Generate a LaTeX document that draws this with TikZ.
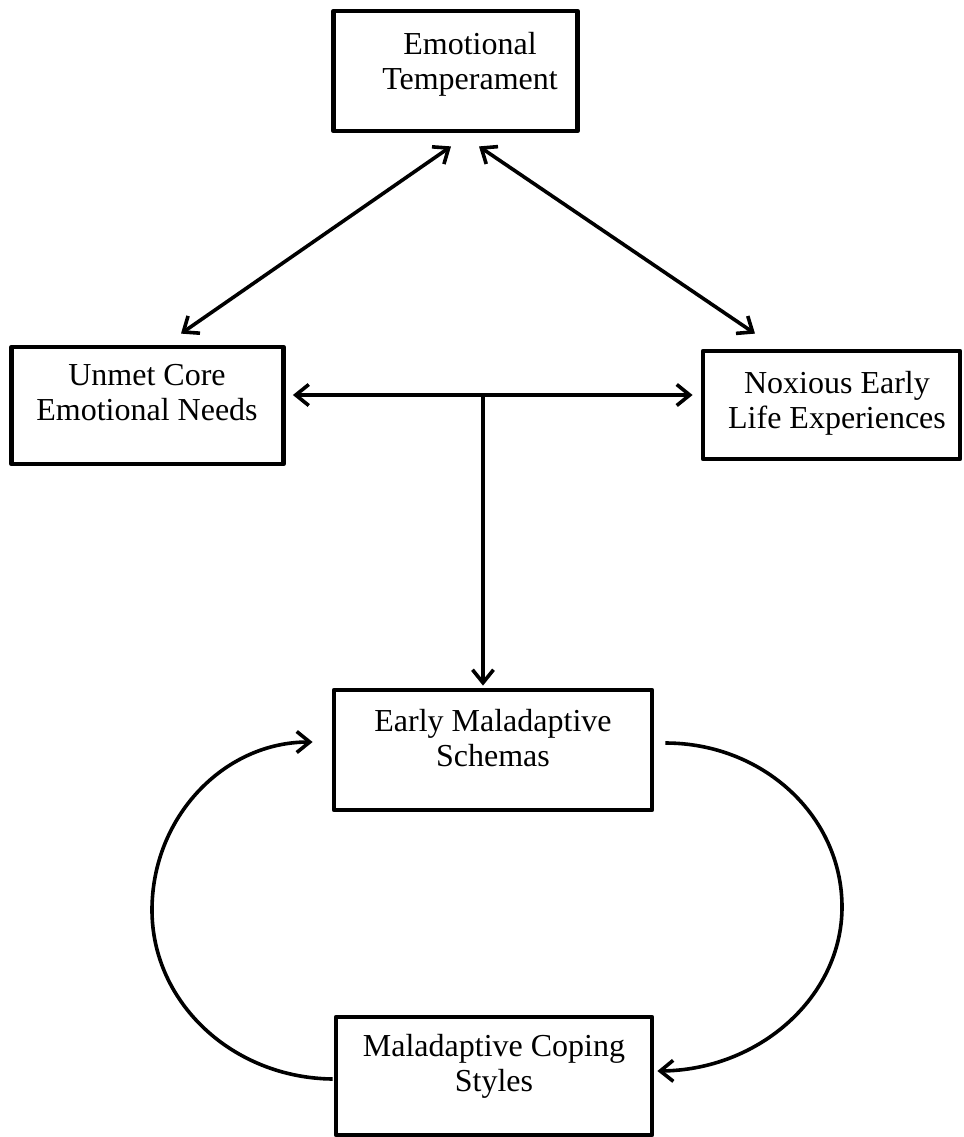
\documentclass[tikz,border=0pt]{standalone}
\usepackage{fontspec}
\setmainfont{Liberation Serif}
\usetikzlibrary{arrows.meta}
\tikzset{
  box/.style={draw,line width=2.4pt,inner sep=0pt},
  lbl/.style={anchor=north,align=center,inner sep=0pt,font=\fontsize{16}{17.5}\selectfont},
  link/.style={line width=1.8pt,-{Straight Barb[length=6.5pt,width=10.5pt,line width=1.8pt]}},
  dlink/.style={line width=1.8pt,{Straight Barb[length=6.5pt,width=10.5pt,line width=1.8pt]}-{Straight Barb[length=6.5pt,width=10.5pt,line width=1.8pt]}}
}
\begin{document}
\begin{tikzpicture}[x=0.5pt,y=-0.5pt,join=round] %schema model, pixel coordinates
         \useasboundingbox (0,0) rectangle (964,1137);
         \node[box,minimum width=122pt,minimum height=60pt] (temper) at (455.5,71) {};
         \node[box,minimum width=136pt,minimum height=58.5pt] (needs) at (147.5,405.5) {};
         \node[box,minimum width=128.5pt,minimum height=54pt] (noxious) at (831.5,405) {};
         \node[box,minimum width=159pt,minimum height=60pt] (schemas) at (493,750) {};
         \node[box,minimum width=158pt,minimum height=59pt] (coping) at (494,1076) {};
         \node[lbl] (temper-txt) at (470,32) {Emotional\\Temperament};
         \node[lbl] (needs-txt) at (147,364) {Unmet Core\\Emotional Needs};
         \node[lbl] (noxious-txt) at (837,371) {Noxious Early\\Life Experiences};
         \node[lbl] (schemas-txt) at (493,709) {Early Maladaptive\\Schemas};
         \node[lbl] (coping-txt) at (494,1034) {Maladaptive Coping\\Styles};
         \coordinate (hub) at (483,395);
         \draw[dlink] ([shift={(-4.5,13)}]temper.south) -- ([shift={(33.5,-11)}]needs.north);
         \draw[dlink] ([shift={(23.5,13)}]temper.south) -- ([shift={(-76.5,-15)}]noxious.north);
         \draw[dlink] ([shift={(7,-10.5)}]needs.east) -- ([shift={(-8,-10)}]noxious.west);
         \draw[link] (hub) -- ([shift={(-10,-2)}]schemas.north);
         \draw[link] ([shift={(11,-7)}]schemas.east) .. controls (763,743) and (842,816) .. (842,907)
                .. controls (842,997) and (759,1070) .. ([shift={(3,-5)}]coping.east);
         \draw[link] ([shift={(-1,3)}]coping.west) .. controls (233,1078) and (152,1003) .. (152,910)
                .. controls (152,817) and (224,742) .. ([shift={(-19,-8)}]schemas.west);
    \end{tikzpicture}
\end{document}
